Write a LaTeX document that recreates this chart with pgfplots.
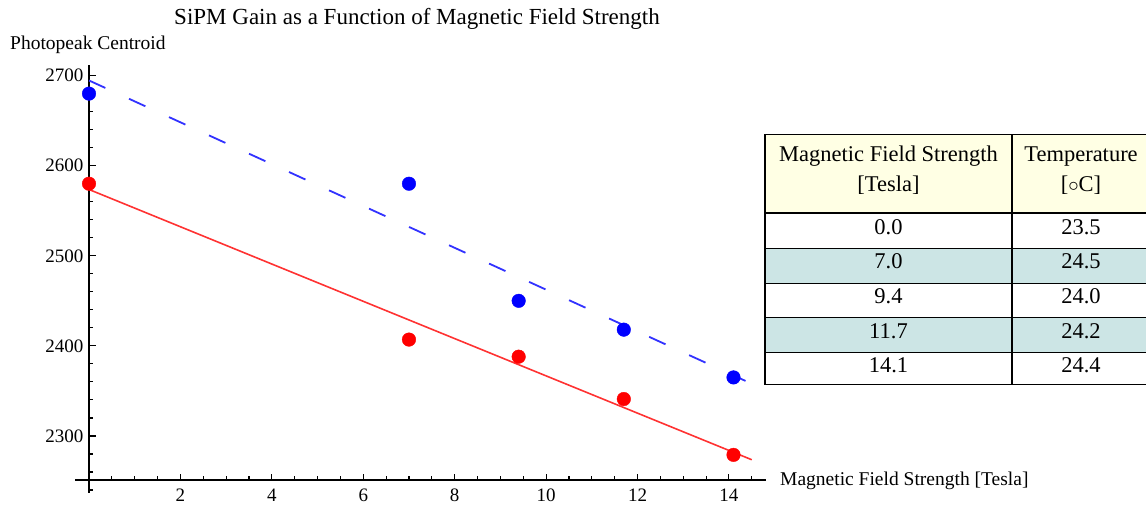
\documentclass[border=0pt]{standalone}
\usepackage{fontspec}
\setmainfont{Liberation Serif}
\usepackage{pgfplots}
\pgfplotsset{compat=1.18}
\definecolor{hdr}{RGB}{255,255,228}
\definecolor{tealrow}{RGB}{204,229,229}
\definecolor{bl}{RGB}{50,50,255}
\definecolor{rd}{RGB}{255,50,50}
\begin{document}
\begin{tikzpicture}
\path[use as bounding box] (0pt,0pt) rectangle (1146pt,508pt);
% x axis
\begin{axis}[
  at={(75pt,28pt)}, anchor=south west, scale only axis,
  width=690.5pt, height=415.1pt,
  xmin=-0.306, xmax=14.8, ymin=2251.2, ymax=2712,
  axis x line*=bottom, axis y line=none,
  xtick={2,4,...,14},
  minor xtick={0.5,1,1.5,2.5,3,3.5,4.5,5,5.5,6.5,7,7.5,8.5,9,9.5,10.5,11,11.5,12.5,13,13.5,14.5},
  tick align=inside, major tick length=6pt, minor tick length=4pt,
  axis line style={line width=1.3pt, black},
  every tick/.style={line width=1.1pt, black},
  ticklabel style={font=\fontsize{19}{22}\selectfont},
  /pgf/number format/assume math mode=true,
  xticklabel shift=5pt,
]
\end{axis}
% y axis and data
\begin{axis}[
  at={(89pt,15pt)}, anchor=south west, scale only axis,
  width=676.5pt, height=428.2pt,
  xmin=0, xmax=14.8, ymin=2236.7, ymax=2712,
  axis y line*=left, axis x line=none,
  ytick={2300,2400,...,2700},
  minor ytick={2240,2260,2280,2320,2340,2360,2380,2420,2440,2460,2480,2520,2540,2560,2580,2620,2640,2660,2680},
  tick align=inside, major tick length=7pt, minor tick length=4.5pt,
  axis line style={line width=1.3pt, black},
  every tick/.style={line width=1.1pt, black},
  ticklabel style={font=\fontsize{19}{22}\selectfont},
  yticklabel shift=2pt,
  /pgf/number format/assume math mode=true,
  /pgf/number format/1000 sep={},
  clip=false,
]
\addplot[no marks, color=bl, line width=1.8pt, dash pattern=on 18pt off 26pt]
  coordinates {(0,2694.6) (14.5,2357.9)};
\addplot[no marks, color=rd, line width=1.6pt]
  coordinates {(0,2573.6) (14.5,2273.6)};
\addplot[only marks, mark=*, mark size=6.8pt, color=blue]
  coordinates {(0,2680) (7,2580) (9.4,2450) (11.7,2418) (14.1,2365)};
\addplot[only marks, mark=*, mark size=6.8pt, color=red]
  coordinates {(0,2580) (7,2407) (9.4,2388) (11.7,2341) (14.1,2279)};
\end{axis}
% labels
\node[anchor=base, inner sep=0pt, font=\fontsize{23}{27}\selectfont] at (417pt,483pt) {SiPM Gain as a Function of Magnetic Field Strength};
\node[anchor=base west, inner sep=0pt, font=\fontsize{19.5}{23}\selectfont] at (10pt,458pt) {Photopeak Centroid};
\node[anchor=base west, inner sep=0pt, font=\fontsize{19.5}{23}\selectfont] at (780pt,22pt) {Magnetic Field Strength [Tesla]};
% table
\fill[hdr] (765pt,295pt) rectangle (1150pt,373.7pt);
\fill[tealrow] (765pt,224.7pt) rectangle (1150pt,259.7pt);
\fill[tealrow] (765pt,155.3pt) rectangle (1150pt,190.3pt);
\begin{scope}[line width=1.3pt, black]
\foreach \yy in {373.7,295,259.7,224.7,190.3,155.3,123.7} {\draw (765pt,\yy pt) -- (1150pt,\yy pt);}
\draw (765pt,123.05pt) -- (765pt,374.35pt);
\draw (1012pt,123.05pt) -- (1012pt,374.35pt);
\end{scope}
\begin{scope}[every node/.style={anchor=base, inner sep=0pt, font=\fontsize{22.5}{26}\selectfont}]
\node at (888.5pt,346.3pt) {Magnetic Field Strength};
\node at (888.5pt,316.3pt) {[Tesla]};
\node at (1081pt,346.3pt) {Temperature};
\node at (1081pt,316.3pt) {[$\circ$C]};
\node at (888.5pt,273.7pt) {0.0};
\node at (888.5pt,239pt) {7.0};
\node at (888.5pt,204.7pt) {9.4};
\node at (888.5pt,169.7pt) {11.7};
\node at (888.5pt,135.7pt) {14.1};
\node at (1081pt,273.7pt) {23.5};
\node at (1081pt,239pt) {24.5};
\node at (1081pt,204.7pt) {24.0};
\node at (1081pt,169.7pt) {24.2};
\node at (1081pt,135.7pt) {24.4};
\end{scope}
\end{tikzpicture}
\end{document}
